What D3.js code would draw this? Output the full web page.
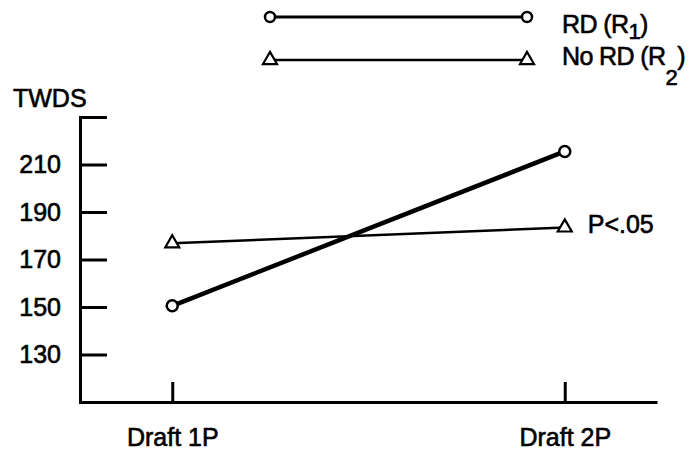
<!DOCTYPE html>
<html>
<head>
<meta charset="utf-8">
<script src="https://cdn.jsdelivr.net/npm/d3@7"></script>
<style>
  body { margin: 0; background: #fff; }
  text { font-family: "Liberation Sans", Arial, sans-serif; font-size: 25px; fill: #000; stroke: #000; stroke-width: 0.6px; }
  .axis path, .axis line { stroke: #000; stroke-width: 3; }
  .legend text { letter-spacing: -0.6px; }
  .legend .sub { font-size: 22px; }
</style>
</head>
<body>
<div id="chart"></div>
<script>
var drafts = ["Draft 1P", "Draft 2P"];
var rdValues = [150.5, 215.5];
var noRdValues = [176.8, 183.5];
var yTicks = [130, 150, 170, 190, 210, 230];
var note = "P<.05";

var width = 696, height = 456;

var svg = d3.select("#chart").append("svg")
    .attr("width", width)
    .attr("height", height);

var x = d3.scalePoint()
    .domain(drafts)
    .range([80, 657])
    .padding(0.235);

var y = d3.scaleLinear()
    .domain([110, 230])
    .range([402, 117]);

// y axis, ticks pointing inward
svg.append("g")
    .attr("class", "axis")
    .attr("transform", "translate(80,0)")
    .call(d3.axisLeft(y)
        .tickValues(yTicks)
        .tickSizeInner(-27)
        .tickSizeOuter(0)
        .tickPadding(19)
        .tickFormat(function (d) { return d < 230 ? d : ""; }))
    .call(function (g) {
        g.selectAll("text").attr("font-size", null).attr("font-family", null);
        g.select(".domain").attr("stroke-linecap", "square");
    });

svg.append("g")
    .attr("class", "axis")
    .attr("transform", "translate(0,402)")
    .call(d3.axisBottom(x)
        .tickSizeInner(-20)
        .tickSizeOuter(0)
        .tickPadding(26))
    .call(function (g) {
        g.selectAll("text").attr("font-size", null).attr("font-family", null);
        g.select(".domain").attr("stroke-width", 2.5);
    });

svg.append("text")
    .attr("x", 13)
    .attr("y", 107)
    .text("TWDS");

var line = d3.line()
    .x(function (d, i) { return x(drafts[i]); })
    .y(function (d) { return y(d); });

svg.append("path")
    .datum(noRdValues)
    .attr("d", line)
    .attr("fill", "none")
    .attr("stroke", "#000")
    .attr("stroke-width", 2.5);

svg.append("path")
    .datum(rdValues)
    .attr("d", line)
    .attr("fill", "none")
    .attr("stroke", "#000")
    .attr("stroke-width", 4.5);

var tri = d3.symbol().type(d3.symbolTriangle).size(85);

svg.selectAll(".rd")
    .data(rdValues)
    .enter()
    .append("circle")
    .attr("class", "rd")
    .attr("cx", function (d, i) { return x(drafts[i]); })
    .attr("cy", function (d) { return y(d); })
    .attr("r", 5.5)
    .attr("fill", "#fff")
    .attr("stroke", "#000")
    .attr("stroke-width", 2.5);

svg.selectAll(".nord")
    .data(noRdValues)
    .enter()
    .append("path")
    .attr("class", "nord")
    .attr("d", tri)
    .attr("transform", function (d, i) { return "translate(" + x(drafts[i]) + "," + y(d) + ")"; })
    .attr("fill", "#fff")
    .attr("stroke", "#000")
    .attr("stroke-width", 2.2);

svg.append("text")
    .attr("x", x(drafts[1]) + 23)
    .attr("y", y(noRdValues[1]) + 6)
    .text(note);

// legend
var legend = [
    {label: "RD (R", sub: "1", subDy: 6, y: 17, textY: 33, wide: 3, mark: "circle"},
    {label: "No RD (R", sub: "2", subDy: 20, y: 60, textY: 65, wide: 2.5, mark: "triangle"}
];

var lg = svg.selectAll(".legend")
    .data(legend)
    .enter()
    .append("g")
    .attr("class", "legend");

lg.append("line")
    .attr("x1", 270).attr("x2", 527)
    .attr("y1", function (d) { return d.y; })
    .attr("y2", function (d) { return d.y; })
    .attr("stroke", "#000")
    .attr("stroke-width", function (d) { return d.wide; });

lg.each(function (d) {
    var g = d3.select(this);
    [270, 527].forEach(function (cx) {
        if (d.mark == "circle") {
            g.append("circle")
                .attr("cx", cx).attr("cy", d.y).attr("r", 5)
                .attr("fill", "#fff").attr("stroke", "#000").attr("stroke-width", 2.5);
        } else {
            g.append("path")
                .attr("d", tri)
                .attr("transform", "translate(" + cx + "," + d.y + ")")
                .attr("fill", "#fff").attr("stroke", "#000").attr("stroke-width", 2.2);
        }
    });
});

var lt = lg.append("text")
    .attr("x", 562)
    .attr("y", function (d) { return d.textY; });

lt.append("tspan").text(function (d) { return d.label; });
lt.append("tspan").attr("class", "sub").attr("dy", function (d) { return d.subDy; }).text(function (d) { return d.sub; });
lt.append("tspan").attr("dy", function (d) { return -d.subDy; }).text(")");
</script>
</body>
</html>
